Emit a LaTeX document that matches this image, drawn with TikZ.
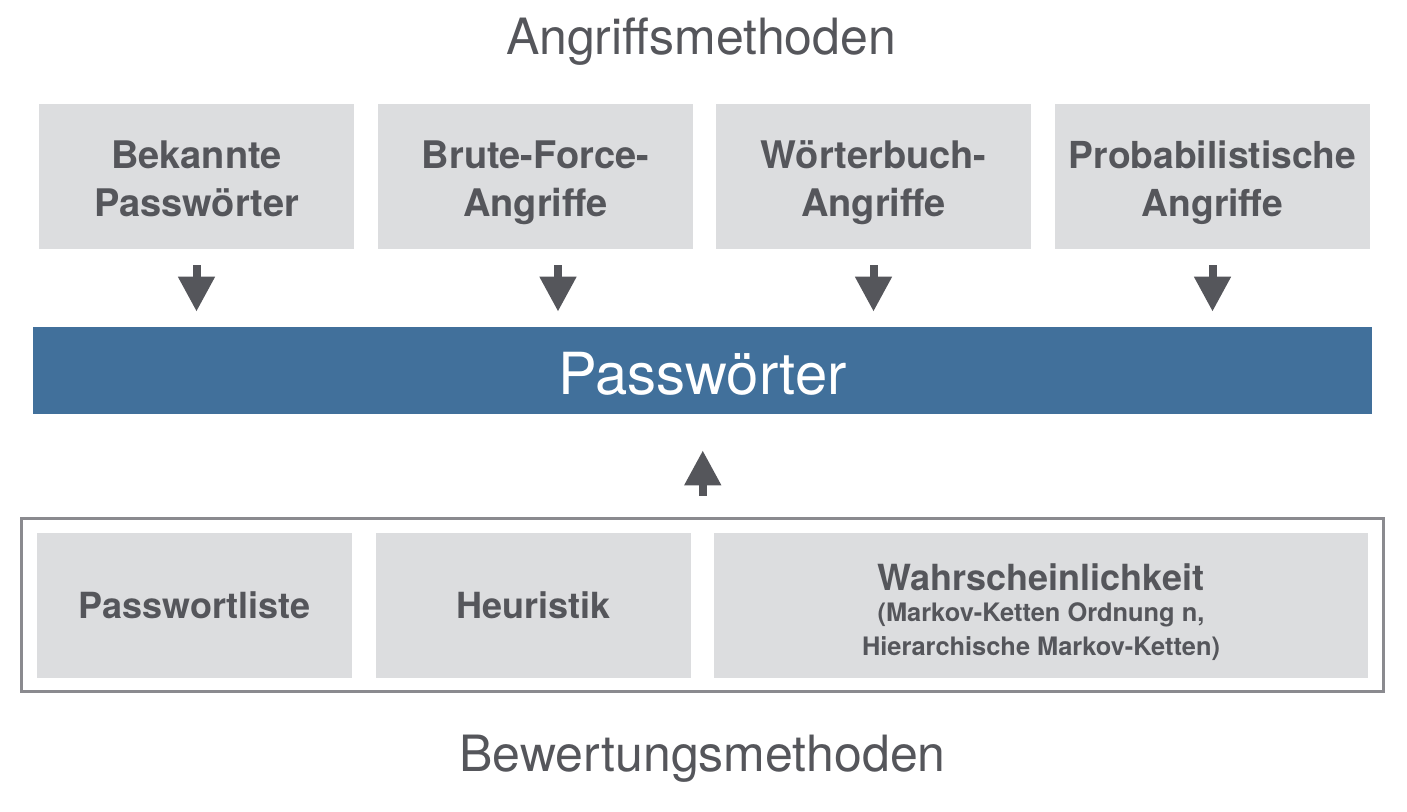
\documentclass[tikz,border=0pt]{standalone}
\usepackage{fontspec}
\setmainfont{TeX Gyre Heros}
\usetikzlibrary{arrows.meta}
\definecolor{boxgray}{HTML}{DCDDDF}
\definecolor{textgray}{HTML}{55565B}
\definecolor{barblue}{HTML}{41709B}
\definecolor{framegray}{HTML}{8A8A8F}
\newcommand{\oben}{\rule{0pt}{20pt}}
\newcommand{\unten}{\rule[-4pt]{0pt}{0pt}}
\begin{document}
\begin{tikzpicture}[x=0.5pt,y=-0.5pt,
   method/.style={fill=boxgray,text=textgray,font=\fontsize{18}{24}\selectfont\bfseries,align=center,minimum width=157.5pt,minimum height=72.5pt,inner sep=0pt},
   heading/.style={text=textgray,font=\fontsize{25}{30}\selectfont,anchor=base,inner sep=0pt},
   blockarrow/.style={draw=textgray,line width=4pt,-{Triangle[width=17.5pt,length=17.5pt,fill=textgray]}}]
   \useasboundingbox (0,0) rectangle (1407,812);
   \node[heading] (angriff) at (701,55) {Angriffsmethoden};
   % Angriffsmethoden
   \node[method,font=\fontsize{19}{24}\selectfont\bfseries] (bekannt) at (196.5,176.5) {\oben Bekannte\\Passwörter\unten};
   \node[method,font=\fontsize{19}{24}\selectfont\bfseries] (brute) at (535.5,176.5) {\oben Brute-Force-\\Angriffe\unten};
   \node[method,font=\fontsize{19}{24}\selectfont\bfseries] (woerter) at (873.5,176.5) {\oben Wörterbuch-\\Angriffe\unten};
   \node[method,font=\fontsize{18.6}{24}\selectfont\bfseries] (prob) at (1212.5,176.5) {\oben Probabilistische\\Angriffe\unten};
   \node[fill=barblue,text=white,font=\fontsize{29}{32}\selectfont,minimum width=669.5pt,minimum height=43.5pt,inner sep=0pt,text height=24pt,text depth=0pt] (pw) at (702.5,370.5) {Passwörter};
   \draw[blockarrow,shorten <=8pt,shorten >=7.5pt] (bekannt.south) -- (bekannt.south |- pw.north);
   \draw[blockarrow,shorten <=8pt,shorten >=7.5pt] ([xshift=11.25pt]brute.south) -- ([xshift=11.25pt]brute.south |- pw.north);
   \draw[blockarrow,shorten <=8pt,shorten >=7.5pt] (woerter.south) -- (woerter.south |- pw.north);
   \draw[blockarrow,shorten <=8pt,shorten >=7.5pt] (prob.south) -- (prob.south |- pw.north);
   % Bewertungsmethoden
   \node[draw=framegray,line width=1.5pt,minimum width=681pt,minimum height=86.5pt,inner sep=0pt] (rahmen) at (702.25,605) {};
   \node[method] (liste) at (194.5,605.5) {Passwortliste};
   \node[method] (heur) at (533.5,605.5) {Heuristik};
   \node[method,minimum width=327pt] (wahr) at (1041,605.5) {};
   \node[text=textgray,font=\fontsize{18}{24}\selectfont\bfseries,align=center,inner sep=0pt] (wahrtext) at ([yshift=-3.4pt]wahr.center) {Wahrscheinlichkeit\\[-8.25pt]{\fontsize{12.7}{17}\selectfont (Markov-Ketten Ordnung n,}\\[-7pt]{\fontsize{12.7}{17}\selectfont Hierarchische Markov-Ketten)}};
   \draw[blockarrow,shorten <=10.75pt,shorten >=18pt] ([xshift=0.25pt]rahmen.north) -- ([xshift=0.25pt]rahmen.north |- pw.south);
   \node[heading] (bewert) at (702.5,771) {Bewertungsmethoden};
\end{tikzpicture}
\end{document}
